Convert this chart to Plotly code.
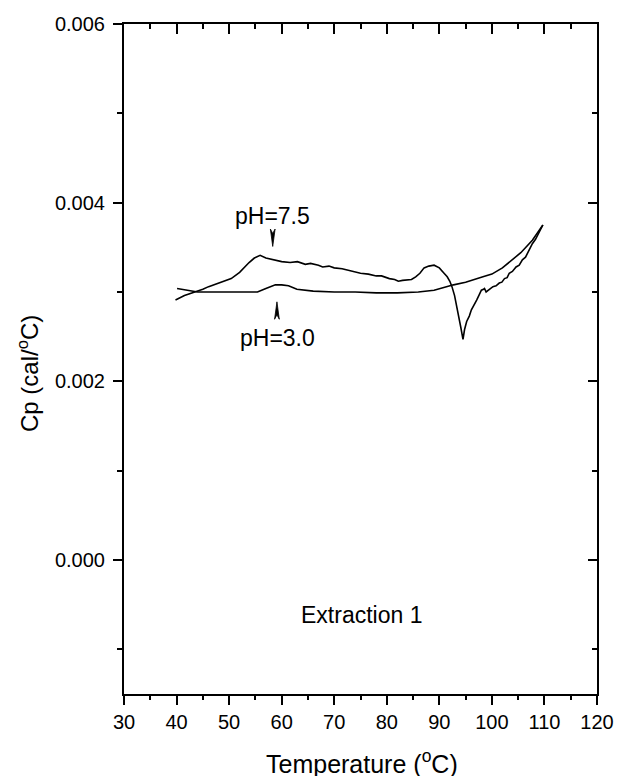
import plotly.graph_objects as go

# ---- data ----
t_ph75 = [39.8, 41.5, 42.9, 45.0, 46.1, 47.5, 49.0, 50.4, 52.0, 52.9, 53.8, 54.8, 55.9, 57.0, 58.5,
          60.0, 61.6, 63.0, 64.5, 65.5, 67.0, 67.8, 69.0, 70.0, 71.5, 73.4, 75.0, 76.5, 78.0,
          79.0, 80.5, 81.5, 82.2, 83.0, 84.0, 84.7, 85.5, 86.3, 87.1, 88.0, 89.0, 90.0, 90.9,
          91.5, 92.0, 92.4, 92.9, 93.3, 93.7, 94.1, 94.5, 94.8, 95.2, 95.7, 96.1, 96.6, 97.1,
          97.6, 98.0, 98.4, 98.6, 98.9, 99.5, 100.2, 100.8, 101.4, 101.9, 102.4, 102.9, 103.3,
          103.9, 104.6, 105.2, 105.8, 106.4, 107.0, 107.7, 108.3, 109.0, 109.7]
cp_ph75 = [0.00291, 0.00296, 0.00299, 0.00303, 0.00306, 0.00309, 0.00312, 0.00315, 0.00322, 0.00328,
           0.00333, 0.00338, 0.00341, 0.00338, 0.00336,
           0.00334, 0.00333, 0.00334, 0.00331, 0.00332, 0.00330, 0.00328, 0.00329, 0.00327, 0.00326,
           0.00323, 0.00321, 0.00320, 0.00318,
           0.00318, 0.00315, 0.00314, 0.00312, 0.00313, 0.00314, 0.00314, 0.00317, 0.00321, 0.00327,
           0.00329, 0.00330, 0.00327, 0.00321,
           0.00317, 0.00312, 0.00306, 0.00296, 0.00284, 0.00276, 0.00260, 0.00247, 0.00258, 0.00267,
           0.00273, 0.00280, 0.00285, 0.00291,
           0.00297, 0.00302, 0.00303, 0.00304, 0.00300, 0.00303, 0.00306, 0.00307, 0.00310, 0.00311,
           0.00315, 0.00316, 0.00321,
           0.00323, 0.00328, 0.00330, 0.00336, 0.00339, 0.00346, 0.00354, 0.00359, 0.00368, 0.00375]

t_ph30 = [40.1, 42.0, 44.0, 48.0, 52.0, 55.4, 57.0, 58.8, 60.0, 61.3, 62.9, 66.0, 70.0, 74.0, 78.0,
          82.0, 86.0, 89.0, 92.7, 95.0, 98.3, 100.0, 102.0, 103.9, 105.5, 107.7, 109.7]
cp_ph30 = [0.00304, 0.00302, 0.00300, 0.00300, 0.00300, 0.00300, 0.00304, 0.00308, 0.00308, 0.00307,
           0.00303, 0.00301, 0.00300, 0.00300, 0.00299,
           0.00299, 0.00300, 0.00302, 0.00308, 0.00311, 0.00317, 0.00320, 0.00327, 0.00336, 0.00344,
           0.00358, 0.00375]

x_tickvals = [30, 40, 50, 60, 70, 80, 90, 100, 110, 120]
y_tickvals = [0.000, 0.002, 0.004, 0.006]
y_ticktext = ["0.000", "0.002", "0.004", "0.006"]

# annotation labels and arrow markers
label_text = ["pH=7.5", "pH=3.0", "Extraction 1"]
label_x = [58.3, 59.3, 75.2]
label_y = [0.00385, 0.00248, -0.00062]
arrow_x = [58.3, 59.1]
arrow_tip = [0.00351, 0.00289]
arrow_dir = [-1, 1]  # -1 points down, +1 points up

FONT = "Liberation Sans, Arial, sans-serif"

fig = go.Figure()
fig.add_trace(go.Scatter(x=t_ph75, y=cp_ph75, mode="lines",
                         line=dict(color="black", width=1.6), showlegend=False))
fig.add_trace(go.Scatter(x=t_ph30, y=cp_ph30, mode="lines",
                         line=dict(color="black", width=1.6), showlegend=False))

# narrow arrowheads
hw = 0.45       # half width in degC
h = 0.000185    # height in Cp units
notch = 0.00004
for ax_, tip, d in zip(arrow_x, arrow_tip, arrow_dir):
    base = tip - d * h
    xs = [ax_, ax_ - hw, ax_, ax_ + hw, ax_]
    ys = [tip, base - d * 0.00001, base + d * notch, base - d * 0.00001, tip]
    fig.add_trace(go.Scatter(x=xs, y=ys, mode="lines", fill="toself",
                             fillcolor="black", line=dict(color="black", width=0.8),
                             showlegend=False, hoverinfo="skip"))

# invisible trace for mirrored (inside) tick axes
fig.add_trace(go.Scatter(x=[30, 120], y=[-0.0015, 0.006], xaxis="x2", yaxis="y2",
                         mode="markers", marker=dict(opacity=0), showlegend=False,
                         hoverinfo="skip"))

for txt, lx, ly in zip(label_text, label_x, label_y):
    fig.add_annotation(x=lx, y=ly, text=txt, showarrow=False,
                       font=dict(family=FONT, size=23, color="black"),
                       xanchor="center", yanchor="middle")

fig.add_annotation(xref="paper", yref="paper", x=-0.203, y=0.479,
                   text="Cp (cal/<sup>o</sup>C)", textangle=-90, showarrow=False,
                   font=dict(family=FONT, size=24, color="black"),
                   xanchor="center", yanchor="middle")
fig.add_annotation(xref="paper", yref="paper", x=0.504, y=-0.102,
                   text="Temperature (<sup>o</sup>C)", showarrow=False,
                   font=dict(family=FONT, size=25, color="black"),
                   xanchor="center", yanchor="middle")

common_x = dict(range=[30, 120], tickvals=x_tickvals, showgrid=False, zeroline=False)
common_y = dict(range=[-0.0015, 0.006], tickvals=y_tickvals, showgrid=False, zeroline=False)

fig.update_layout(
    width=626, height=776, autosize=False,
    margin=dict(l=124, r=20, t=24, b=82),
    paper_bgcolor="white", plot_bgcolor="white",
    font=dict(family=FONT, color="black"),
    xaxis=dict(**common_x, ticks="outside", ticklen=9, tickwidth=1.5, tickcolor="black",
               minor=dict(dtick=5, ticks="outside", ticklen=4, tickwidth=1.5, tickcolor="black"),
               showline=True, linewidth=2, linecolor="black", mirror=True,
               tickfont=dict(size=20, family=FONT), ticklabelstandoff=0),
    yaxis=dict(**common_y, ticktext=y_ticktext, ticks="outside", ticklen=9, tickwidth=1.5,
               tickcolor="black",
               minor=dict(dtick=0.001, ticks="outside", ticklen=5, tickwidth=1.5, tickcolor="black"),
               showline=True, linewidth=2, linecolor="black", mirror=True,
               tickfont=dict(size=20, family=FONT), ticklabelstandoff=4),
    xaxis2=dict(**common_x, overlaying="x", side="top", anchor="y2", ticks="inside",
                ticklen=10, tickwidth=1.5, tickcolor="black", showticklabels=False,
                minor=dict(dtick=5, ticks="inside", ticklen=5, tickwidth=1.5, tickcolor="black"),
                showline=False),
    yaxis2=dict(**common_y, overlaying="y", side="right", anchor="x2", ticks="inside",
                ticklen=9, tickwidth=1.5, tickcolor="black", showticklabels=False,
                minor=dict(dtick=0.001, ticks="inside", ticklen=5, tickwidth=1.5, tickcolor="black"),
                showline=False),
)

fig.write_html("out.html",
               config={"displayModeBar": False, "responsive": False},
               post_script="document.body.style.margin='0';document.body.style.overflow='hidden';")
